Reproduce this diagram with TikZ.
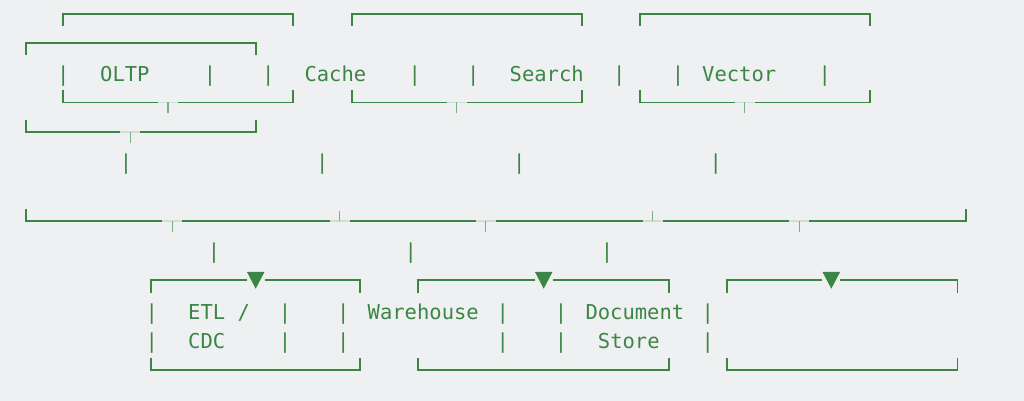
\documentclass[tikz,border=0pt]{standalone}
\usepackage{fontspec}
\setmonofont{DejaVu Sans Mono}
\definecolor{bg}{HTML}{EFF0F2}
\definecolor{gr}{HTML}{3C8544}
\definecolor{grl}{HTML}{CFE0D1}
\definecolor{grt}{HTML}{7FAE84}
\tikzset{
  ln/.style={draw=gr,line width=1.7pt},
  faint/.style={draw=grl,line width=1.9pt},
  tk/.style={draw=grt,line width=1.2pt},
  tx/.style={font=\ttfamily\fontsize{20.5}{24}\selectfont, text=gr, inner sep=0pt, anchor=base west},
  vb/.style={font=\ttfamily\fontsize{20.5}{24}\selectfont, text=gr, inner sep=0pt, anchor=base}
}
\newcommand{\tbrk}[5]{%
  \draw[ln] (#1,#3+12) -- (#1,#3) -- (#2,#3) -- (#2,#3+12);
  \draw[ln] (#1,#4-12) -- (#1,#4) -- (#2,#4) -- (#2,#4-12);
  \draw[faint] (#5-10,#4) -- (#5+10,#4);
  \draw[tk] (#5,#4) -- (#5,#4+11);}
\newcommand{\bbrk}[5]{%
  \draw[ln] (#1,#3+13) -- (#1,#3) -- (#5-9,#3);
  \draw[ln] (#5+9,#3) -- (#2,#3) -- (#2,#3+13);
  \fill[gr] (#5-8.8,#3-8.4) -- (#5+8.8,#3-8.4) -- (#5,#3+8.4) -- cycle;
  \draw[ln] (#1,#4-12) -- (#1,#4) -- (#2,#4) -- (#2,#4-12);}
\begin{document}
\begin{tikzpicture}[x=1pt,y=-1pt]
\fill[bg] (0,0) rectangle (1024,401);
\useasboundingbox (0,0) rectangle (1024,401);

% top brackets
\tbrk{63.3}{293.3}{14}{102.5}{168}
\tbrk{352}{582}{14}{102.5}{456.7}
\tbrk{640}{870.3}{14}{102.5}{744.7}
\tbrk{25.7}{256}{43.3}{132.3}{130.3}

% text row 1
\node[vb] (b1) at (63.3,82) {|};
\node[tx] (oltp) at (100,82) {OLTP};
\node[vb] (b2) at (210,82) {|};
\node[vb] (b3) at (268.3,82) {|};
\node[tx] (cache) at (304.3,82) {Cache};
\node[vb] (b4) at (414.7,82) {|};
\node[vb] (b5) at (473.3,82) {|};
\node[tx] (search) at (509.5,82) {Search};
\node[vb] (b6) at (619.3,82) {|};
\node[vb] (b7) at (678,82) {|};
\node[tx] (vector) at (702,82) {Vector};
\node[vb] (b8) at (824.7,82) {|};

% standalone bars
\node[vb] (c1) at (126,169.5) {|};
\node[vb] (c2) at (322.3,169.5) {|};
\node[vb] (c3) at (519.3,169.5) {|};
\node[vb] (c4) at (715.7,169.5) {|};

% long bracket
\draw[ln] (25.7,209) -- (25.7,221.3) -- (966.3,221.3) -- (966.3,209);
\foreach \x in {172.3,485.7,799.3}{
  \draw[faint] (\x-10,221.3) -- (\x+10,221.3);
  \draw[tk] (\x,221.3) -- (\x,231.7);}
\foreach \x in {339.7,652.7}{
  \draw[faint] (\x-10,221.3) -- (\x+10,221.3);
  \draw[tk] (\x,221.3) -- (\x,211);}

% bars row
\node[vb] (d1) at (214,258.5) {|};
\node[vb] (d2) at (410.7,258.5) {|};
\node[vb] (d3) at (607,258.5) {|};

% bottom brackets
\bbrk{151}{360}{280.3}{369.7}{255.7}
\bbrk{418.3}{669.3}{280.3}{369.7}{543.7}
\bbrk{727}{957.5}{280.3}{369.7}{831.3}

% bottom text rows
\node[vb] (e1) at (151.7,319) {|};
\node[tx] (etl) at (188,319) {ETL /};
\node[vb] (e2) at (285,319) {|};
\node[vb] (e3) at (343.3,319) {|};
\node[tx] (wh) at (367.5,319) {Warehouse};
\node[vb] (e4) at (502.7,319) {|};
\node[vb] (e5) at (561,319) {|};
\node[tx] (doc) at (585.3,319) {Document};
\node[vb] (e6) at (707.7,319) {|};

\node[vb] (f1) at (151.7,348) {|};
\node[tx] (cdc) at (188,348) {CDC};
\node[vb] (f2) at (285,348) {|};
\node[vb] (f3) at (343.3,348) {|};
\node[vb] (f4) at (502.7,348) {|};
\node[vb] (f5) at (561,348) {|};
\node[tx] (store) at (597.7,348) {Store};
\node[vb] (f6) at (707.7,348) {|};
\end{tikzpicture}
\end{document}
